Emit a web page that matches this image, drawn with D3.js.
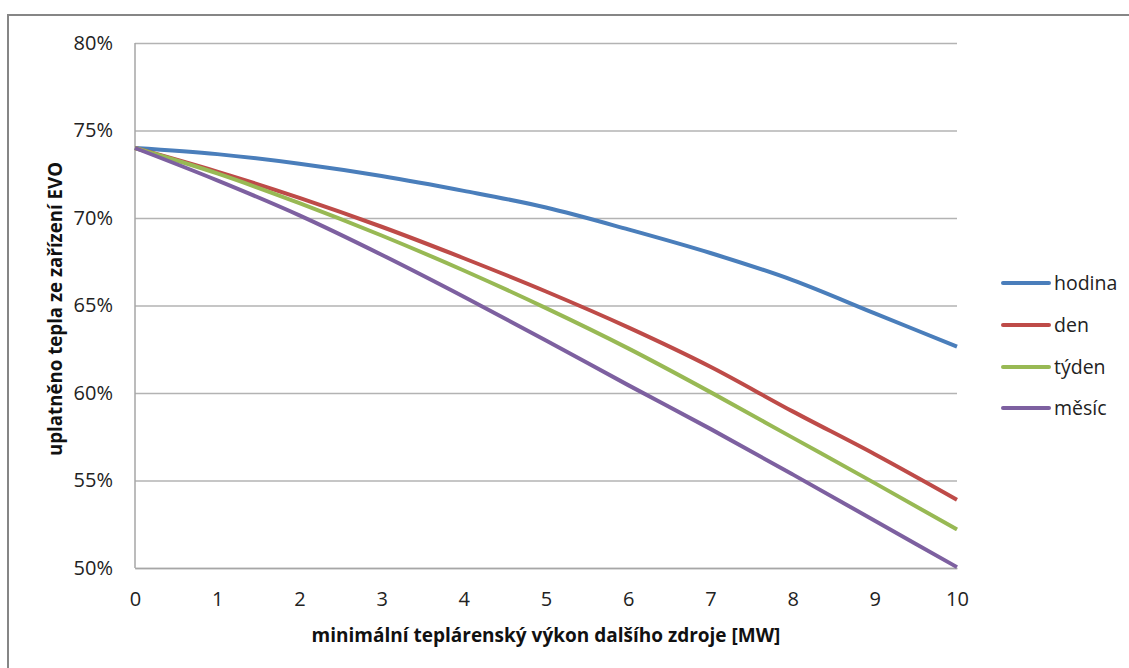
<!DOCTYPE html>
<html>
<head>
<meta charset="utf-8">
<script src="https://cdn.jsdelivr.net/npm/d3@7/dist/d3.min.js"></script>
<style>
  html, body { margin: 0; padding: 0; background: #fff; }
  svg { display: block; font-family: "Open Sans", Lato, sans-serif; }
</style>
</head>
<body>
<svg id="chart" width="1129" height="668"></svg>
<script>
const xValues = [0, 1, 2, 3, 4, 5, 6, 7, 8, 9, 10];
const seriesNames = ["hodina", "den", "týden", "měsíc"];
const hodina = [74.0, 73.65, 73.1, 72.4, 71.55, 70.6, 69.35, 68.0, 66.45, 64.55, 62.65];
const den    = [74.0, 72.65, 71.15, 69.5, 67.7, 65.8, 63.75, 61.5, 58.95, 56.5, 53.9];
const tyden  = [74.0, 72.55, 70.85, 69.0, 67.0, 64.85, 62.55, 60.05, 57.45, 54.85, 52.2];
const mesic  = [74.0, 72.15, 70.15, 67.9, 65.5, 63.0, 60.45, 57.95, 55.35, 52.7, 50.05];
const yTicks = [50, 55, 60, 65, 70, 75, 80];
const xTicks = [0, 1, 2, 3, 4, 5, 6, 7, 8, 9, 10];
const colors = ["#4A7EBB", "#BE4B48", "#98B954", "#7D60A0"];
const xTitle = "minimální teplárenský výkon dalšího zdroje [MW]";
const yTitle = "uplatněno tepla ze zařízení EVO";

const seriesData = [hodina, den, tyden, mesic];
const FONT = "'Open Sans', Lato, sans-serif";

const svg = d3.select("#chart");

// outer border
svg.append("rect")
  .attr("x", 8).attr("y", 15)
  .attr("width", 1140).attr("height", 680)
  .attr("fill", "none").attr("stroke", "#868686").attr("stroke-width", 2);

const x = d3.scaleLinear().domain([0, 10]).range([135, 957]);
const y = d3.scaleLinear().domain([50, 80]).range([568, 43]);

// y axis with gridlines
const yAxis = svg.append("g")
  .attr("transform", "translate(135,0)")
  .call(d3.axisLeft(y).tickValues(yTicks).tickSize(-822).tickPadding(22)
    .tickFormat(d => d + "%"));
yAxis.select(".domain").remove();
yAxis.selectAll(".tick line").attr("stroke", "#b3b3b3").attr("stroke-width", 1.5);
yAxis.selectAll(".tick text").attr("font-size", 20).attr("fill", "#222")
  .attr("font-family", FONT);

// left axis line
svg.append("line")
  .attr("x1", x(0)).attr("x2", x(0))
  .attr("y1", y(80)).attr("y2", y(50))
  .attr("stroke", "#a6a6a6").attr("stroke-width", 1.5);

// x axis
const xAxis = svg.append("g")
  .attr("transform", "translate(0,568)")
  .call(d3.axisBottom(x).tickValues(xTicks).tickSize(0).tickPadding(24)
    .tickFormat(d3.format("d")));
xAxis.select(".domain").attr("stroke", "#a6a6a6").attr("stroke-width", 1.5);
xAxis.selectAll(".tick text").attr("font-size", 20).attr("fill", "#222")
  .attr("font-family", FONT);

// lines
const line = d3.line()
  .x((d, i) => x(xValues[i]))
  .y(d => y(d))
  .curve(d3.curveMonotoneX);

seriesData.forEach((s, i) => {
  svg.append("path")
    .datum(s)
    .attr("d", line)
    .attr("fill", "none")
    .attr("stroke", colors[i])
    .attr("stroke-width", 4)
    .attr("stroke-linejoin", "round");
});

// axis titles
svg.append("text")
  .attr("x", 546).attr("y", 642)
  .attr("text-anchor", "middle")
  .attr("font-family", FONT)
  .attr("font-size", 19).attr("font-weight", "bold").attr("fill", "#111")
  .text(xTitle);

svg.append("text")
  .attr("transform", "translate(62,309) rotate(-90)")
  .attr("text-anchor", "middle")
  .attr("font-family", FONT)
  .attr("font-size", 18.7).attr("font-weight", "bold").attr("fill", "#111")
  .text(yTitle);

// legend
const legendY = [283, 325, 367, 408];
const legend = svg.append("g");
seriesNames.forEach((name, i) => {
  legend.append("line")
    .attr("x1", 1003).attr("x2", 1049)
    .attr("y1", legendY[i]).attr("y2", legendY[i])
    .attr("stroke", colors[i]).attr("stroke-width", 4)
    .attr("stroke-linecap", "round");
  legend.append("text")
    .attr("x", 1054).attr("y", legendY[i])
    .attr("dy", "0.35em")
    .attr("font-family", FONT)
    .attr("font-size", 19.5).attr("fill", "#222")
    .text(name);
});
</script>
</body>
</html>
